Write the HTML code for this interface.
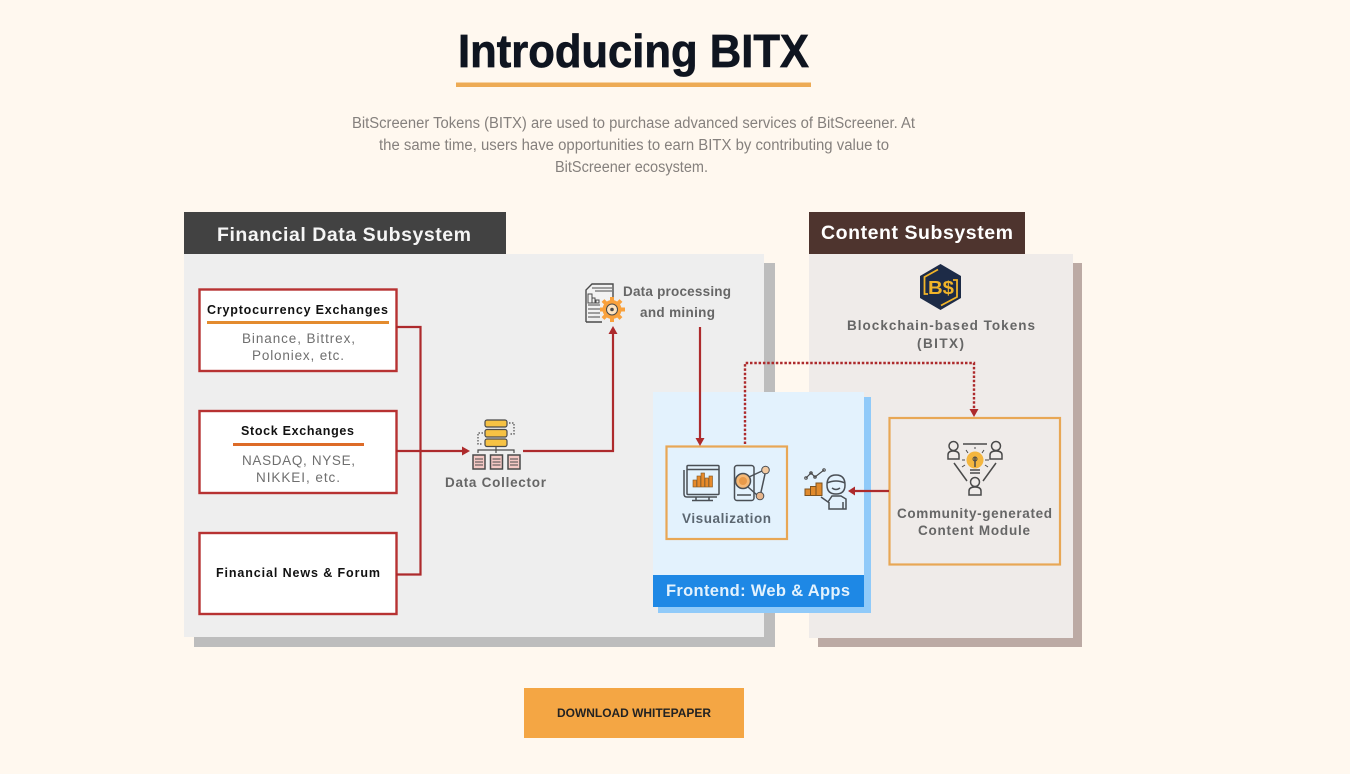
<!DOCTYPE html>
<html><head><meta charset="utf-8"><title>Introducing BITX</title>
<style>
html,body{margin:0;padding:0;background:#fff8ef;width:1350px;height:774px;overflow:hidden}
svg{display:block}
text{font-family:"Liberation Sans",sans-serif}
.c{text-anchor:middle}
.g{fill:#666;font-weight:bold;font-size:13.500px}
.l{fill:#6f6f6f;font-size:13.500px}
.k{fill:#111;font-weight:bold;font-size:12.500px}
.i{fill:none;stroke:#4a4f55;stroke-width:1.500}
</style></head><body>
<svg width="1350" height="774" viewBox="0 0 1350 774" xmlns="http://www.w3.org/2000/svg">
<rect width="1350" height="774" fill="#fff8ef"/>
<text x="458" y="67" font-size="46" font-weight="bold" fill="#0f1520" stroke="#0f1520" stroke-width=".7" textLength="351" lengthAdjust="spacingAndGlyphs">Introducing BITX</text>
<rect x="456" y="82.500" width="355" height="4.500" fill="#edab55"/>
<g font-size="15.500" fill="#85807d">
<text x="352" y="128" textLength="563" lengthAdjust="spacingAndGlyphs">BitScreener Tokens (BITX) are used to purchase advanced services of BitScreener. At</text>
<text x="379" y="150" textLength="510" lengthAdjust="spacingAndGlyphs">the same time, users have opportunities to earn BITX by contributing value to</text>
<text x="555" y="172" textLength="153" lengthAdjust="spacingAndGlyphs">BitScreener ecosystem.</text>
</g>

<!-- Panels -->
<rect x="194" y="263" width="581" height="384" fill="#bdbdbd"/>
<rect x="184" y="254" width="580" height="383" fill="#eeeeee"/>
<rect x="184" y="212" width="322" height="42" fill="#424242"/>
<text x="217" y="241" font-size="19.500" font-weight="bold" fill="#f5f5f5" textLength="254">Financial Data Subsystem</text>
<rect x="818" y="263" width="264" height="384" fill="#bcaaa4"/>
<rect x="809" y="254" width="264" height="384" fill="#efebe9"/>
<rect x="809" y="212" width="216" height="42" fill="#4e342e"/>
<text x="821" y="239" font-size="19.500" font-weight="bold" fill="#fff" textLength="192">Content Subsystem</text>

<!-- Source boxes -->
<g fill="#fff" stroke="#b73232" stroke-width="2.400">
<rect x="199.500" y="289.500" width="197" height="81.500"/>
<rect x="199.500" y="411" width="197" height="82"/>
<rect x="199.500" y="533" width="197" height="81"/>
</g>
<text x="207" y="314" class="k" textLength="181">Cryptocurrency Exchanges</text>
<rect x="207" y="321" width="182" height="3" fill="#e38b2e"/>
<text x="242" y="343" class="l" textLength="113">Binance, Bittrex,</text>
<text x="252" y="360" class="l" textLength="92">Poloniex, etc.</text>
<text x="241" y="435" class="k" textLength="113">Stock Exchanges</text>
<rect x="233" y="443" width="131" height="3" fill="#dd6b28"/>
<text x="242" y="465" class="l" textLength="113">NASDAQ, NYSE,</text>
<text x="256" y="482" class="l" textLength="84">NIKKEI, etc.</text>
<text x="216" y="577" class="k" textLength="164">Financial News &amp; Forum</text>

<text x="623" y="296" class="g" textLength="108">Data processing</text>
<text x="640" y="317" class="g" textLength="75">and mining</text>
<text x="445" y="487" class="g" textLength="101">Data Collector</text>

<!-- Frontend -->
<rect x="658" y="397" width="213" height="216" fill="#90caf9"/>
<rect x="653" y="392" width="211" height="183" fill="#e3f2fd"/>
<rect x="653" y="575" width="211" height="32" fill="#1e88e5"/>
<text x="666" y="596" font-size="16.500" font-weight="bold" fill="#e3f2fd" textLength="184">Frontend: Web &amp; Apps</text>
<rect x="666.500" y="446.500" width="120.500" height="92.500" fill="#e3f2fd" stroke="#e8a755" stroke-width="2.200"/>
<text x="682" y="523" class="g" style="fill:#5b6670" textLength="89">Visualization</text>

<!-- Content items -->
<rect x="889.500" y="418" width="170.500" height="146.500" fill="#efebe9" stroke="#e8a755" stroke-width="2.200"/>
<text x="847" y="330" class="g" textLength="188">Blockchain-based Tokens</text>
<text x="917" y="348" class="g" textLength="47">(BITX)</text>
<text x="897" y="518" class="g" textLength="155">Community-generated</text>
<text x="918" y="535" class="g" textLength="112">Content Module</text>

<!-- Connectors -->
<g fill="none" stroke="#ad2a2c" stroke-width="2.200">
<path d="M396 327H420.500V574.500H396"/>
<path d="M396 451H463"/>
<path d="M523 451H613V333"/>
<path d="M700 327V439"/>
<path d="M889 491H854"/>
</g>
<path d="M745 444V363H974V411" fill="none" stroke="#ad2a2c" stroke-width="2.400" stroke-dasharray="2.500 1.800"/>
<g fill="#ad2a2c">
<path d="M470 451L462 446.500V455.500Z"/>
<path d="M613 326L608.500 334H617.500Z"/>
<path d="M700 446L695.500 438H704.500Z"/>
<path d="M974 417L969.500 409H978.500Z"/>
<path d="M848 491L855 486.500V495.500Z"/>
</g>

<!-- Data collector icon -->
<g stroke="#4a4a4a" stroke-width="1.200">
<rect x="485" y="420" width="22" height="7" rx="2" fill="#f6c244"/>
<rect x="485" y="429.500" width="22" height="7.500" rx="2" fill="#f6c244"/>
<rect x="485" y="439" width="22" height="7.500" rx="2" fill="#f6c244"/>
<path d="M509 423H514V434H509M483 433H478V444H483" fill="none" stroke-dasharray="1.500 1.500"/>
<path d="M478 453V450H514V453M496 447V453" fill="none"/>
<g fill="#f4c8c4" stroke-width="1.500">
<rect x="473" y="455" width="12" height="14"/><rect x="490.500" y="455" width="12" height="14"/><rect x="508" y="455" width="12" height="14"/>
</g>
<path d="M475 459H483M475 462H483M475 465H483M492.500 459H500.500M492.500 462H500.500M492.500 465H500.500M510 459H518M510 462H518M510 465H518" stroke-width="1"/>
</g>

<!-- Data processing icon -->
<g>
<path d="M586 322V290L592 284H613V300M586 322H602" fill="#f2f2f2" stroke="#4a4a4a" stroke-width="1.400"/>
<path d="M592 288H612M595 291H612M588 305H600M588 309H600M588 313H600M588 317H600" stroke="#4a4a4a" fill="none"/>
<path d="M588 294h4v9h-4zM592 298h3v5h-3zM596 300h3v3h-3z" fill="none" stroke="#4a4a4a"/>
<g stroke="#f9a13c" stroke-width="4" fill="none"><path d="M612 297V322M600 309.500H625M603 300.500L621 318.500M621 300.500L603 318.500"/></g>
<circle cx="612" cy="309.500" r="9.500" fill="#f9a13c"/>
<circle cx="612" cy="309.500" r="5.500" fill="#fde3c0" stroke="#4a4a4a"/><circle cx="612" cy="309.500" r="1.800" fill="#4a4a4a"/>
</g>

<!-- Visualization icons -->
<g class="i">
<rect x="687" y="465.500" width="32" height="29" rx="1"/>
<path d="M684 470V494Q684 497 687 497H717"/>
<path d="M687 469.500H719M696 497V500M709 497V500M692 500.500H713"/>
</g>
<g fill="#e78a2a" stroke="#7d5320" stroke-width=".6">
<rect x="693" y="480" width="3.500" height="7"/><rect x="697" y="476" width="3.500" height="11"/><rect x="701" y="473" width="3.500" height="14"/><rect x="705" y="478" width="3.500" height="9"/><rect x="709" y="476" width="3.500" height="11"/>
</g>
<g class="i">
<rect x="734.500" y="465.500" width="19.500" height="35" rx="2.500"/>
<path d="M737 495H751M748 487L757 495M765 474L761 492M749 477L762 471"/>
</g>
<circle cx="743" cy="481" r="7.500" fill="#f5b977" stroke="#4a4f55" stroke-width="1.500"/>
<circle cx="743" cy="481" r="4" fill="#e89a4a"/>
<circle cx="765.500" cy="470" r="3.800" fill="#f2c9a0" stroke="#4a4f55"/>
<circle cx="760" cy="496" r="3.800" fill="#e8b68c" stroke="#4a4f55"/>

<!-- Person with chart icon -->
<g>
<path d="M806 478L811 473L815 477L824 470" fill="none" stroke="#4a4a4a" stroke-width="1.200"/>
<circle cx="806" cy="478" r="1.300" fill="none" stroke="#4a4a4a"/><circle cx="811" cy="473" r="1.300" fill="none" stroke="#4a4a4a"/><circle cx="815" cy="477" r="1.300" fill="none" stroke="#4a4a4a"/><circle cx="824" cy="470" r="1.300" fill="none" stroke="#4a4a4a"/>
<rect x="805" y="489" width="5.500" height="6.500" fill="#e08a2c" stroke="#7d5320"/>
<rect x="810.500" y="486.500" width="5.500" height="9" fill="#e08a2c" stroke="#7d5320"/>
<rect x="816" y="483" width="6" height="12.500" fill="#e08a2c" stroke="#7d5320"/>
<g class="i">
<path d="M827 485Q827 475 836 475Q845 475 845 485Q845 494 836 494Q827 494 827 485Z"/>
<path d="M827 483Q836 479 845 483M832 488Q836 491 840 488"/>
<path d="M821 497L828 502L832 496H841L846 499V509H829V502M843 509V502"/>
</g>
</g>

<!-- BS hex logo -->
<path d="M940.500 264L961 276V298L940.500 310L920 298V276Z" fill="#1d2b47"/>
<g fill="none" stroke="#f0b429" stroke-width="1.800">
<path d="M928 294H924.500V277L938 269.500M953 280H957V297L941 305.500"/>
</g>
<text x="928" y="294" font-size="18" font-weight="bold" fill="#f0b429" textLength="26" lengthAdjust="spacingAndGlyphs">B$</text>

<!-- Community icon -->
<g fill="none" stroke="#4a4a4a" stroke-width="1.500">
<circle cx="953.500" cy="446" r="4.500"/><path d="M948 459V455Q948 451 953 451Q959 451 959 455V459H948Z"/>
<circle cx="996" cy="446" r="4.500"/><path d="M990 459V455Q990 451 996 451Q1002 451 1002 455V459H990Z"/>
<circle cx="975" cy="482" r="4.500"/><path d="M969 495V491Q969 487 975 487Q981 487 981 491V495H969Z"/>
<path d="M963 444H987M954 463L967 481M996 463L983 481"/>
</g>
<circle cx="975" cy="460" r="8.500" fill="#f4b63f"/>
<path d="M975 457V467M970 470H980M970 473H980" stroke="#4a4a4a" stroke-width="1.500" fill="none"/>
<circle cx="975" cy="459" r="2" fill="none" stroke="#4a4a4a"/>
<path d="M962 460H965M985 460H989M966 450L968 453M984 450L982 453M975 447V449M962 467L965 465M988 467L985 465" stroke="#4a4a4a"/>

<!-- Button -->
<rect x="524" y="688" width="220" height="50" fill="#f4a644"/>
<text x="557" y="717" font-size="12" font-weight="bold" fill="#222" textLength="154" lengthAdjust="spacingAndGlyphs">DOWNLOAD WHITEPAPER</text>
</svg>
</body></html>
